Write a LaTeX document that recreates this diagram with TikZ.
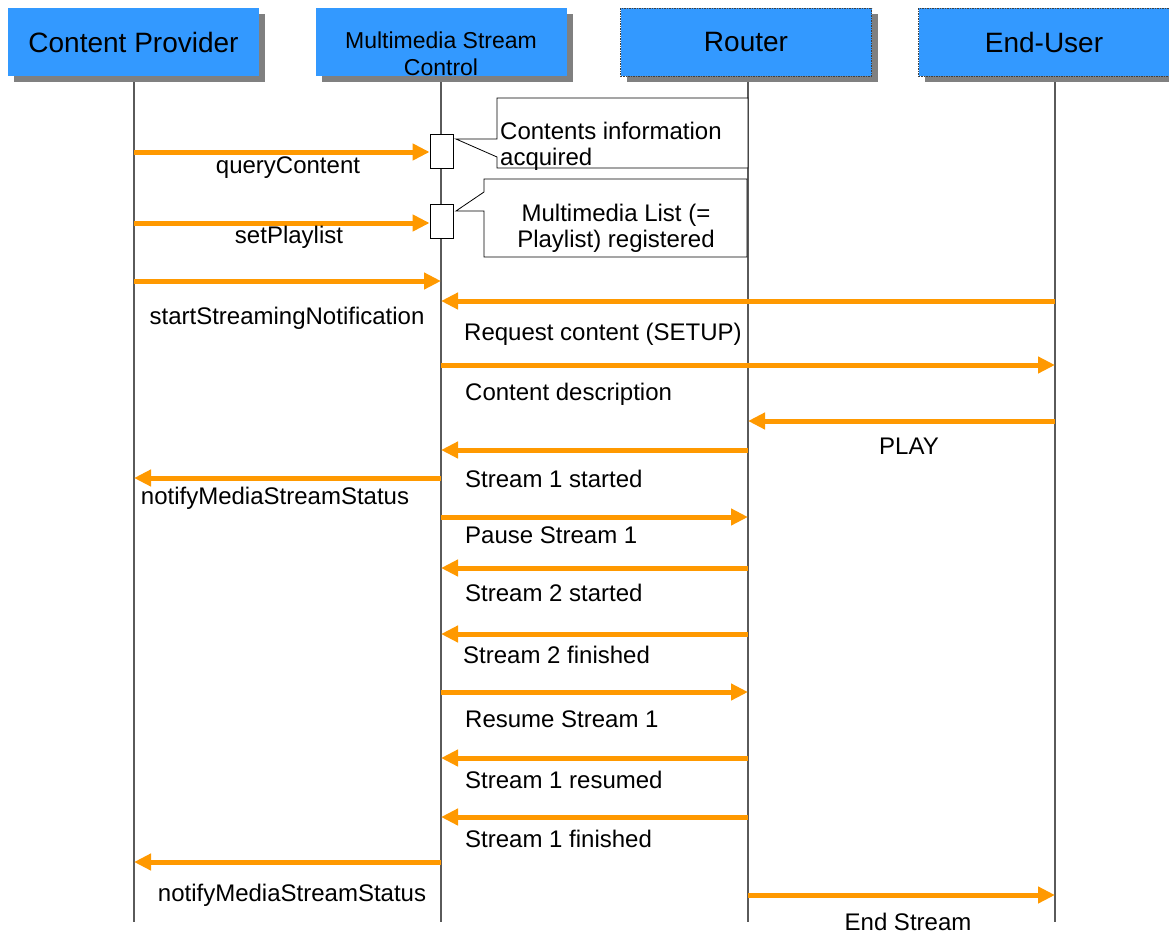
\documentclass[tikz,border=0pt]{standalone}
\usepackage{fontspec}
\setmainfont{Liberation Sans}
\usepackage{tikz}
\usetikzlibrary{arrows.meta,shadows}
\definecolor{boxblue}{RGB}{51,153,255}
\definecolor{msgorange}{RGB}{255,153,0}
\definecolor{lifegray}{RGB}{90,90,90}

\begin{document}
\begin{tikzpicture}[x=1pt,y=-1pt,
    hdr/.style={fill=boxblue,minimum width=251pt,minimum height=68pt,inner sep=0pt,
      drop shadow={shadow xshift=6pt,shadow yshift=-6pt,fill=black!50,opacity=1},
      font=\fontsize{28}{30}\selectfont},
    dashedhdr/.style={hdr,draw=black!75,line width=0.8pt,dash pattern=on 1.5pt off 1pt},
    life/.style={draw=lifegray,line width=1.2pt},
    msg/.style={draw=msgorange,line width=5pt,-{Triangle[length=17pt,width=16pt]}},
    lbl/.style={inner sep=0pt,font=\fontsize{24}{26}\selectfont},
    act/.style={draw,fill=white,line width=0.8pt,minimum width=23pt,minimum height=34pt,inner sep=0pt},
    callout/.style={draw,fill=white,line width=0.8pt}]
  \useasboundingbox (0,0) rectangle (1169,934);

  % heads
  \node[hdr] (cp) at (133.5,42) {Content Provider};
  \node[hdr] (msc) at (441,42) {};
  \node[lbl,align=center,font=\fontsize{23}{27}\selectfont] (msctxt) at (441,54) {Multimedia Stream\\Control};
  \node[dashedhdr] (rt) at (746,42) {Router};
  \node[dashedhdr] (eu) at (1044,42) {End-User};

  % lifelines
  \coordinate (cpL) at (134,82);
  \coordinate (mscL) at (441,82);
  \coordinate (rtL) at (748,82);
  \coordinate (euL) at (1055,82);
  \coordinate (bot) at (0,922);
  \foreach \l in {cpL,mscL,rtL,euL}
    \draw[life] (\l) -- (\l |- bot);

  % activations and notes
  \node[act] (act1) at (441.5,151) {};
  \node[act] (act2) at (441.5,221) {};
  \draw[callout] (497,98) -- (497,139) -- (456,139) -- (497,157) -- (497,168)
    -- (748,168) -- (748,98) -- cycle;
  \node[lbl,align=left,anchor=west] (note1) at (500,146) {Contents information\\acquired};
  \draw[callout] (484,179) -- (484,192) -- (456,211) -- (484,211) -- (484,257)
    -- (747,257) -- (747,179) -- cycle;
  \node[lbl,align=center] (note2) at (616,228) {Multimedia List (=\\Playlist) registered};

  % message rows
  \foreach \n/\y in {1/152,2/223,3/281,4/301,5/365,6/421,7/450,8/478,
                     9/517,10/568,11/634,12/692,13/758,14/817,15/862,16/895}
    \coordinate (m\n) at (0,\y);

  \draw[msg] (cpL |- m1) -- (act1.west |- m1);
  \node[lbl] (l1) at (288,168) {queryContent};
  \draw[msg] (cpL |- m2) -- (act2.west |- m2);
  \node[lbl] (l2) at (289,237) {setPlaylist};
  \draw[msg] (cpL |- m3) -- (mscL |- m3);
  \node[lbl] (l3) at (287,318) {startStreamingNotification};
  \draw[msg] (euL |- m4) -- (mscL |- m4);
  \node[lbl,anchor=west] (l4) at (464,334) {Request content (SETUP)};
  \draw[msg] (mscL |- m5) -- (euL |- m5);
  \node[lbl,anchor=west] (l5) at (465,394) {Content description};
  \draw[msg] (euL |- m6) -- (rtL |- m6);
  \node[lbl] (l6) at (909,446) {PLAY};
  \draw[msg] (rtL |- m7) -- (mscL |- m7);
  \node[lbl,anchor=west] (l7) at (465,479) {Stream 1 started};
  \draw[msg] (mscL |- m8) -- (cpL |- m8);
  \node[lbl] (l8) at (275,498) {notifyMediaStreamStatus};
  \draw[msg] (mscL |- m9) -- (rtL |- m9);
  \node[lbl,anchor=west] (l9) at (465,535) {Pause Stream 1};
  \draw[msg] (rtL |- m10) -- (mscL |- m10);
  \node[lbl,anchor=west] (l10) at (465,593) {Stream 2 started};
  \draw[msg] (rtL |- m11) -- (mscL |- m11);
  \node[lbl,anchor=west] (l11) at (463,655) {Stream 2 finished};
  \draw[msg] (mscL |- m12) -- (rtL |- m12);
  \node[lbl,anchor=west] (l12) at (465,719) {Resume Stream 1};
  \draw[msg] (rtL |- m13) -- (mscL |- m13);
  \node[lbl,anchor=west] (l13) at (465,780) {Stream 1 resumed};
  \draw[msg] (rtL |- m14) -- (mscL |- m14);
  \node[lbl,anchor=west] (l14) at (465,839) {Stream 1 finished};
  \draw[msg] (mscL |- m15) -- (cpL |- m15);
  \node[lbl] (l15) at (292,895) {notifyMediaStreamStatus};
  \draw[msg] (rtL |- m16) -- (euL |- m16);
  \node[lbl] (l16) at (908,922) {End Stream};
\end{tikzpicture}
\end{document}
